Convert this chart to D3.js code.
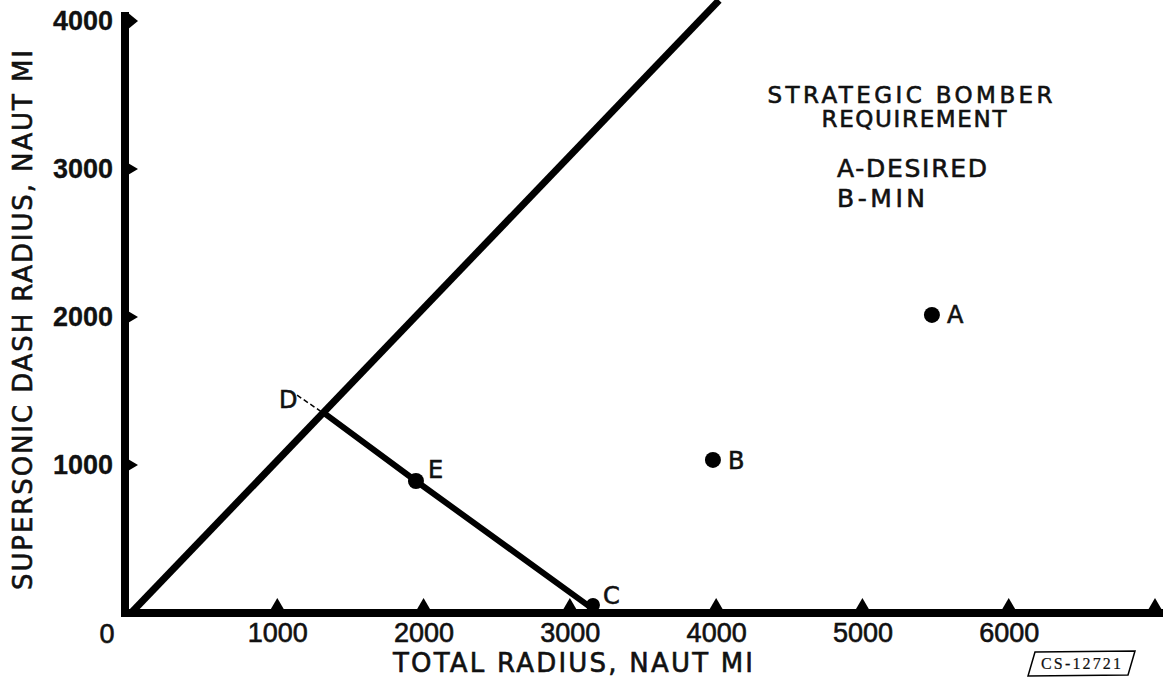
<!DOCTYPE html>
<html>
<head>
<meta charset="utf-8">
<script src="https://cdn.jsdelivr.net/npm/d3@7"></script>
<style>
  body { margin: 0; background: #fff; }
  svg { display: block; }
  text { font-family: "DejaVu Sans", "Liberation Sans", sans-serif; fill: #111; stroke: #111; stroke-width: 0.6px; }
</style>
</head>
<body>
<div class="chart"></div>
<script>
const svgWidth = 1169;
const svgHeight = 681;

// data
const xTicks = [1000, 2000, 3000, 4000, 5000, 6000];
const xMarks = [1000, 2000, 3000, 4000, 5000, 6000, 7000];
const yTicks = [1000, 2000, 3000, 4000];
const diagonal = [[0, 0], [4020, 4140]];            // dash = total line
const tradeLine = [[1320, 1350], [1948, 892], [3140, 40]];  // D - E - C
const points = [
    { name: "A", x: 5475, y: 2014 },
    { name: "B", x: 3978, y: 1034 },
    { name: "E", x: 1948, y: 892 },
    { name: "C", x: 3158, y: 54 }
];
const pointD = { name: "D", x: 1320, y: 1350 };
const noteLines = ["STRATEGIC  BOMBER", "REQUIREMENT", "A-DESIRED", "B-MIN"];

const svg = d3.select(".chart")
    .append("svg")
    .attr("width", svgWidth)
    .attr("height", svgHeight);

const x = d3.scaleLinear().domain([0, 7000]).range([131, 1155]);
const y = d3.scaleLinear().domain([0, 4000]).range([613, 21]);

const line = d3.line().x(d => x(d[0])).y(d => y(d[1]));

// axes lines
svg.append("line")
    .attr("x1", x(0) - 10).attr("x2", x(7000) + 8)
    .attr("y1", y(0)).attr("y2", y(0))
    .attr("stroke", "#000").attr("stroke-width", 8);
svg.append("line")
    .attr("x1", x(0) - 6).attr("x2", x(0) - 6)
    .attr("y1", y(0) + 4).attr("y2", y(4000) - 9)
    .attr("stroke", "#000").attr("stroke-width", 8);

// triangle tick marks on x axis (pointing up)
svg.selectAll("path.xmark")
    .data(xMarks)
    .join("path")
    .attr("class", "xmark")
    .attr("d", d => `M${x(d) - 7},${y(0) - 3} L${x(d)},${y(0) - 15} L${x(d) + 7},${y(0) - 3} Z`)
    .attr("fill", "#000");

// triangle tick marks on y axis (pointing right)
svg.selectAll("path.ymark")
    .data(yTicks)
    .join("path")
    .attr("class", "ymark")
    .attr("d", d => {
        const h = d === 4000 ? 9 : 6.5;
        return `M${x(0) - 4},${y(d) - h} L${x(0) + 7},${y(d)} L${x(0) - 4},${y(d) + h} Z`;
    })
    .attr("fill", "#000");

// tick labels through d3 axes
const xAxis = svg.append("g")
    .attr("transform", `translate(0,${y(0)})`)
    .call(d3.axisBottom(x).tickValues(xTicks).tickSize(0).tickPadding(10).tickFormat(d3.format("d")));
xAxis.select(".domain").remove();
xAxis.selectAll("text")
    .style("font-family", "'Liberation Sans', Arial, sans-serif")
    .style("font-size", "27px")
    .attr("fill", "#111");

const yAxis = svg.append("g")
    .attr("transform", `translate(${x(0)},0)`)
    .call(d3.axisLeft(y).tickValues(yTicks).tickSize(0).tickPadding(18).tickFormat(d3.format("d")));
yAxis.select(".domain").remove();
yAxis.selectAll("text")
    .style("font-family", "'Liberation Sans', Arial, sans-serif")
    .style("font-size", "27px")
    .style("font-weight", "bold")
    .style("stroke-width", "0.3px")
    .attr("fill", "#111");

svg.append("text")
    .attr("x", x(0) - 24).attr("y", y(0) + 30)
    .attr("text-anchor", "middle")
    .style("font-family", "'Liberation Sans', Arial, sans-serif")
    .style("font-size", "27px")
    .text("0");

// axis titles
svg.append("text")
    .attr("x", 573).attr("y", 672)
    .attr("text-anchor", "middle")
    .attr("textLength", 360)
    .attr("lengthAdjust", "spacing")
    .style("font-size", "26px")
    .text("TOTAL  RADIUS, NAUT  MI");

svg.append("text")
    .attr("transform", "translate(32,320) rotate(-90)")
    .attr("text-anchor", "middle")
    .attr("textLength", 540)
    .attr("lengthAdjust", "spacing")
    .style("font-size", "26px")
    .text("SUPERSONIC  DASH  RADIUS,  NAUT  MI");

// lines
svg.append("path")
    .datum(diagonal)
    .attr("d", line)
    .attr("fill", "none")
    .attr("stroke", "#000")
    .attr("stroke-width", 7);

svg.append("path")
    .datum(tradeLine)
    .attr("d", line)
    .attr("fill", "none")
    .attr("stroke", "#000")
    .attr("stroke-width", 6);

// points
const labelOffset = { A: [15, 8], B: [15, 9], E: [12, -3], C: [10, -1] };
svg.selectAll("circle.pt")
    .data(points)
    .join("circle")
    .attr("class", "pt")
    .attr("cx", d => x(d.x))
    .attr("cy", d => y(d.y))
    .attr("r", d => d.name === "C" ? 7 : 8)
    .attr("fill", "#000");

svg.selectAll("text.ptlabel")
    .data(points)
    .join("text")
    .attr("class", "ptlabel")
    .attr("x", d => x(d.x) + labelOffset[d.name][0])
    .attr("y", d => y(d.y) + labelOffset[d.name][1])
    .style("font-size", "24px")
    .text(d => d.name);

// D label with dashed leader
svg.append("text")
    .attr("x", x(pointD.x) - 45)
    .attr("y", y(pointD.y) - 5)
    .style("font-size", "24px")
    .text(pointD.name);
svg.append("line")
    .attr("x1", x(pointD.x) - 27).attr("y1", y(pointD.y) - 18)
    .attr("x2", x(pointD.x) - 2).attr("y2", y(pointD.y) - 1)
    .attr("stroke", "#000").attr("stroke-width", 1.5)
    .attr("stroke-dasharray", "5,3");

// requirement note
const note = svg.append("g");
note.append("text").attr("x", 910).attr("y", 103).attr("text-anchor", "middle")
    .attr("textLength", 285).attr("lengthAdjust", "spacing")
    .style("font-size", "23px").text(noteLines[0]);
note.append("text").attr("x", 914).attr("y", 127).attr("text-anchor", "middle")
    .attr("textLength", 185).attr("lengthAdjust", "spacing")
    .style("font-size", "23px").text(noteLines[1]);
note.append("text").attr("x", 837).attr("y", 177)
    .attr("textLength", 150).attr("lengthAdjust", "spacing")
    .style("font-size", "25px").text(noteLines[2]);
note.append("text").attr("x", 837).attr("y", 207)
    .attr("textLength", 88).attr("lengthAdjust", "spacing")
    .style("font-size", "25px").text(noteLines[3]);

// report stamp
svg.append("path")
    .attr("d", "M1035,652 L1135,651 L1128,675 L1028,676 Z")
    .attr("fill", "none").attr("stroke", "#000").attr("stroke-width", 1.5);
svg.append("text")
    .attr("x", 1081).attr("y", 669)
    .attr("text-anchor", "middle")
    .attr("textLength", 80).attr("lengthAdjust", "spacing")
    .style("font-family", "'Liberation Serif', serif")
    .style("font-size", "16px")
    .style("stroke-width", "0.2px")
    .text("CS-12721");
</script>
</body>
</html>
